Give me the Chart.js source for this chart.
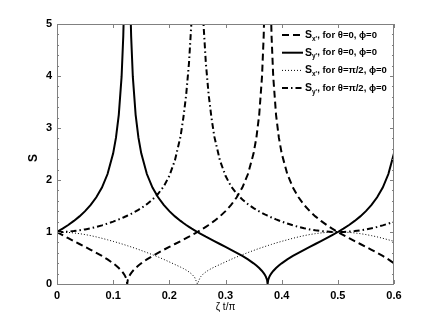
<!DOCTYPE html>
<html>
<head>
<meta charset="utf-8">
<script src="https://cdn.jsdelivr.net/npm/chart.js@4/dist/chart.umd.min.js"></script>
<style>
  html, body { margin: 0; padding: 0; background: #fff; }
  canvas { display: block; }
</style>
</head>
<body>
<canvas id="myChart" width="436" height="321"></canvas>
<script>
// zeta t / pi
const zeta = [0, 0.01, 0.02, 0.03, 0.04, 0.05, 0.06, 0.07, 0.08, 0.09, 0.1, 0.105, 0.11, 0.115, 0.118, 0.12, 0.122, 0.124, 0.125, 0.126, 0.128, 0.13, 0.132, 0.135, 0.14, 0.145, 0.15, 0.16, 0.17, 0.18, 0.19, 0.2, 0.21, 0.22, 0.225, 0.23, 0.235, 0.24, 0.245, 0.25, 0.255, 0.26, 0.265, 0.27, 0.275, 0.28, 0.29, 0.3, 0.31, 0.32, 0.33, 0.34, 0.35, 0.355, 0.36, 0.365, 0.368, 0.37, 0.372, 0.374, 0.375, 0.376, 0.378, 0.38, 0.382, 0.385, 0.39, 0.395, 0.4, 0.41, 0.42, 0.43, 0.44, 0.45, 0.46, 0.47, 0.48, 0.49, 0.5, 0.51, 0.52, 0.53, 0.54, 0.55, 0.56, 0.57, 0.58, 0.59, 0.6];

// S_x', theta=0 (dashed)
const sxTheta0 = [1.000, 0.939, 0.881, 0.824, 0.769, 0.714, 0.658, 0.600, 0.539, 0.473, 0.398, 0.355, 0.307, 0.251, 0.210, 0.177, 0.137, 0.079, 0, 0.079, 0.137, 0.177, 0.210, 0.251, 0.307, 0.355, 0.398, 0.473, 0.539, 0.600, 0.658, 0.714, 0.769, 0.824, 0.852, 0.881, 0.909, 0.939, 0.969, 1.000, 1.032, 1.065, 1.100, 1.135, 1.173, 1.213, 1.300, 1.401, 1.520, 1.667, 1.855, 2.115, 2.513, 2.814, 3.253, 3.987, 4.769, 5.641, 7.3, 12.6, null, 12.6, 7.3, 5.641, 4.769, 3.987, 3.253, 2.814, 2.513, 2.115, 1.855, 1.667, 1.520, 1.401, 1.300, 1.213, 1.135, 1.065, 1.000, 0.939, 0.881, 0.824, 0.769, 0.714, 0.658, 0.600, 0.539, 0.473, 0.398];

// S_y', theta=0 (solid)
const syTheta0 = [1.000, 1.065, 1.135, 1.213, 1.300, 1.401, 1.520, 1.667, 1.855, 2.115, 2.513, 2.814, 3.253, 3.987, 4.769, 5.641, 7.3, 12.6, null, 12.6, 7.3, 5.641, 4.769, 3.987, 3.253, 2.814, 2.513, 2.115, 1.855, 1.667, 1.520, 1.401, 1.300, 1.213, 1.173, 1.135, 1.100, 1.065, 1.032, 1.000, 0.969, 0.939, 0.909, 0.881, 0.852, 0.824, 0.769, 0.714, 0.658, 0.600, 0.539, 0.473, 0.398, 0.355, 0.307, 0.251, 0.210, 0.177, 0.137, 0.079, 0, 0.079, 0.137, 0.177, 0.210, 0.251, 0.307, 0.355, 0.398, 0.473, 0.539, 0.600, 0.658, 0.714, 0.769, 0.824, 0.881, 0.939, 1.000, 1.065, 1.135, 1.213, 1.300, 1.401, 1.520, 1.667, 1.855, 2.115, 2.513];

// S_x', theta=pi/2 (dotted)
const sxThetaHalfPi = [1.000, 0.998, 0.992, 0.982, 0.968, 0.951, 0.930, 0.906, 0.879, 0.850, 0.820, 0.805, 0.789, 0.772, 0.762, 0.755, 0.748, 0.741, 0.737, 0.734, 0.727, 0.720, 0.713, 0.702, 0.684, 0.665, 0.645, 0.605, 0.563, 0.520, 0.474, 0.425, 0.375, 0.325, 0.298, 0.268, 0.232, 0.190, 0.130, 0, 0.130, 0.190, 0.232, 0.268, 0.298, 0.325, 0.375, 0.425, 0.474, 0.520, 0.563, 0.605, 0.645, 0.665, 0.684, 0.702, 0.713, 0.720, 0.727, 0.734, 0.737, 0.741, 0.748, 0.755, 0.762, 0.772, 0.789, 0.805, 0.820, 0.850, 0.879, 0.906, 0.930, 0.951, 0.968, 0.982, 0.992, 0.998, 1.000, 0.998, 0.992, 0.982, 0.968, 0.951, 0.930, 0.906, 0.879, 0.850, 0.820];

// S_y', theta=pi/2 (dash-dot)
const syThetaHalfPi = [1.000, 1.002, 1.008, 1.018, 1.032, 1.050, 1.072, 1.098, 1.128, 1.162, 1.200, 1.221, 1.242, 1.265, 1.279, 1.288, 1.298, 1.308, 1.313, 1.318, 1.328, 1.338, 1.349, 1.366, 1.395, 1.427, 1.460, 1.535, 1.625, 1.735, 1.875, 2.080, 2.380, 2.840, 3.200, 3.640, 4.250, 5.150, 7.500, null, 7.500, 5.150, 4.250, 3.640, 3.200, 2.840, 2.380, 2.080, 1.875, 1.735, 1.625, 1.535, 1.460, 1.427, 1.395, 1.366, 1.349, 1.338, 1.328, 1.318, 1.313, 1.308, 1.298, 1.288, 1.279, 1.265, 1.242, 1.221, 1.200, 1.162, 1.128, 1.098, 1.072, 1.050, 1.032, 1.018, 1.008, 1.002, 1.000, 1.002, 1.008, 1.018, 1.032, 1.050, 1.072, 1.098, 1.128, 1.162, 1.200];

const xTickLabels = ['0', '0.1', '0.2', '0.3', '0.4', '0.5', '0.6'];
const yTickLabels = ['0', '1', '2', '3', '4', '5'];

const legendSub = ["x'", "y'", "x'", "y'"];
const legendRest = [', for \u03b8=0, \u03d5=0', ', for \u03b8=0, \u03d5=0', ', for \u03b8=\u03c0/2, \u03d5=0', ', for \u03b8=\u03c0/2, \u03d5=0'];

const FONT = '"Liberation Sans", Arial, Helvetica, sans-serif';

function pts(arr) {
  return zeta.map((x, i) => ({ x: x, y: arr[i] }));
}

// inward ticks, box, axis titles and the legend with subscripts
const framePlugin = {
  id: 'frame',
  afterDraw(chart) {
    const ctx = chart.ctx;
    const a = chart.chartArea;
    const xs = chart.scales.x, ys = chart.scales.y;
    ctx.save();
    ctx.strokeStyle = '#808080';
    ctx.lineWidth = 1;
    ctx.strokeRect(a.left + 0.5, a.top + 0.5, a.right - a.left - 1, a.bottom - a.top);
    ctx.beginPath();
    xTickLabels.forEach(t => {
      const px = Math.round(xs.getPixelForValue(parseFloat(t))) + 0.5;
      ctx.moveTo(px, a.bottom); ctx.lineTo(px, a.bottom - 4);
      ctx.moveTo(px, a.top); ctx.lineTo(px, a.top + 4);
    });
    for (let i = 0; i <= 25; i++) {
      const py = Math.round(ys.getPixelForValue(i / 5)) + 0.5;
      const len = i % 5 === 0 ? 4 : 2;
      ctx.moveTo(a.left, py); ctx.lineTo(a.left + len, py);
      ctx.moveTo(a.right, py); ctx.lineTo(a.right - len, py);
    }
    ctx.stroke();

    // axis titles
    ctx.fillStyle = '#000';
    ctx.textAlign = 'center';
    ctx.textBaseline = 'middle';
    ctx.font = 'bold 12px ' + FONT;
    ctx.save();
    ctx.translate(34, (a.top + a.bottom) / 2 + 4);
    ctx.rotate(-Math.PI / 2);
    ctx.fillText('S', 0, 0);
    ctx.restore();
    ctx.font = '10px ' + FONT;
    ctx.fillText('\u03b6 t/\u03c0', (a.left + a.right) / 2, 307);

    // legend
    const lx = a.right - 112;
    chart.data.datasets.forEach((ds, i) => {
      const ly = a.top + 11 + i * 17.7;
      ctx.beginPath();
      ctx.strokeStyle = '#000';
      ctx.lineWidth = ds.borderWidth;
      ctx.setLineDash(ds.borderDash || []);
      ctx.moveTo(lx, ly); ctx.lineTo(lx + 21, ly);
      ctx.stroke();
      ctx.setLineDash([]);
      ctx.textAlign = 'left';
      ctx.textBaseline = 'middle';
      let tx = lx + 23;
      ctx.font = 'bold 10.5px ' + FONT;
      ctx.fillText('S', tx, ly);
      tx += ctx.measureText('S').width;
      ctx.font = 'bold 6.5px ' + FONT;
      ctx.fillText(legendSub[i], tx, ly + 4);
      tx += ctx.measureText(legendSub[i]).width;
      ctx.font = 'bold 9.5px ' + FONT;
      ctx.fillText(legendRest[i], tx, ly);
    });
    ctx.restore();
  }
};

const ctx = document.getElementById('myChart').getContext('2d');
const myChart = new Chart(ctx, {
  type: 'line',
  data: {
    datasets: [
      { label: "S_x', for \u03b8=0, \u03d5=0", data: pts(sxTheta0), borderColor: '#000', borderWidth: 2, borderDash: [7, 4] },
      { label: "S_y', for \u03b8=0, \u03d5=0", data: pts(syTheta0), borderColor: '#000', borderWidth: 2 },
      { label: "S_x', for \u03b8=\u03c0/2, \u03d5=0", data: pts(sxThetaHalfPi), borderColor: '#000', borderWidth: 1, borderDash: [1, 2] },
      { label: "S_y', for \u03b8=\u03c0/2, \u03d5=0", data: pts(syThetaHalfPi), borderColor: '#000', borderWidth: 2, borderDash: [6, 3, 1.5, 3] }
    ]
  },
  options: {
    responsive: false,
    animation: false,
    devicePixelRatio: 1,
    layout: { padding: { top: 24, right: 42, left: 0, bottom: 0 } },
    elements: { point: { radius: 0 }, line: { tension: 0, fill: false } },
    datasets: { line: { clip: 0, spanGaps: false } },
    plugins: { legend: { display: false }, tooltip: { enabled: false } },
    scales: {
      x: {
        type: 'linear', min: 0, max: 0.6,
        grid: { display: false, drawTicks: false },
        border: { display: false },
        ticks: {
          stepSize: 0.1, maxRotation: 0, padding: 5, color: '#000',
          font: { family: FONT, size: 11, weight: 'bold' },
          callback: (v, i) => xTickLabels[i]
        },
        afterFit: s => { s.height = 37; }
      },
      y: {
        min: 0, max: 5,
        grid: { display: false, drawTicks: false },
        border: { display: false },
        ticks: {
          stepSize: 1, padding: 5, color: '#000',
          font: { family: FONT, size: 11, weight: 'bold' },
          callback: (v, i) => yTickLabels[i]
        },
        afterFit: s => { s.width = 57; }
      }
    }
  },
  plugins: [framePlugin]
});
</script>
</body>
</html>
